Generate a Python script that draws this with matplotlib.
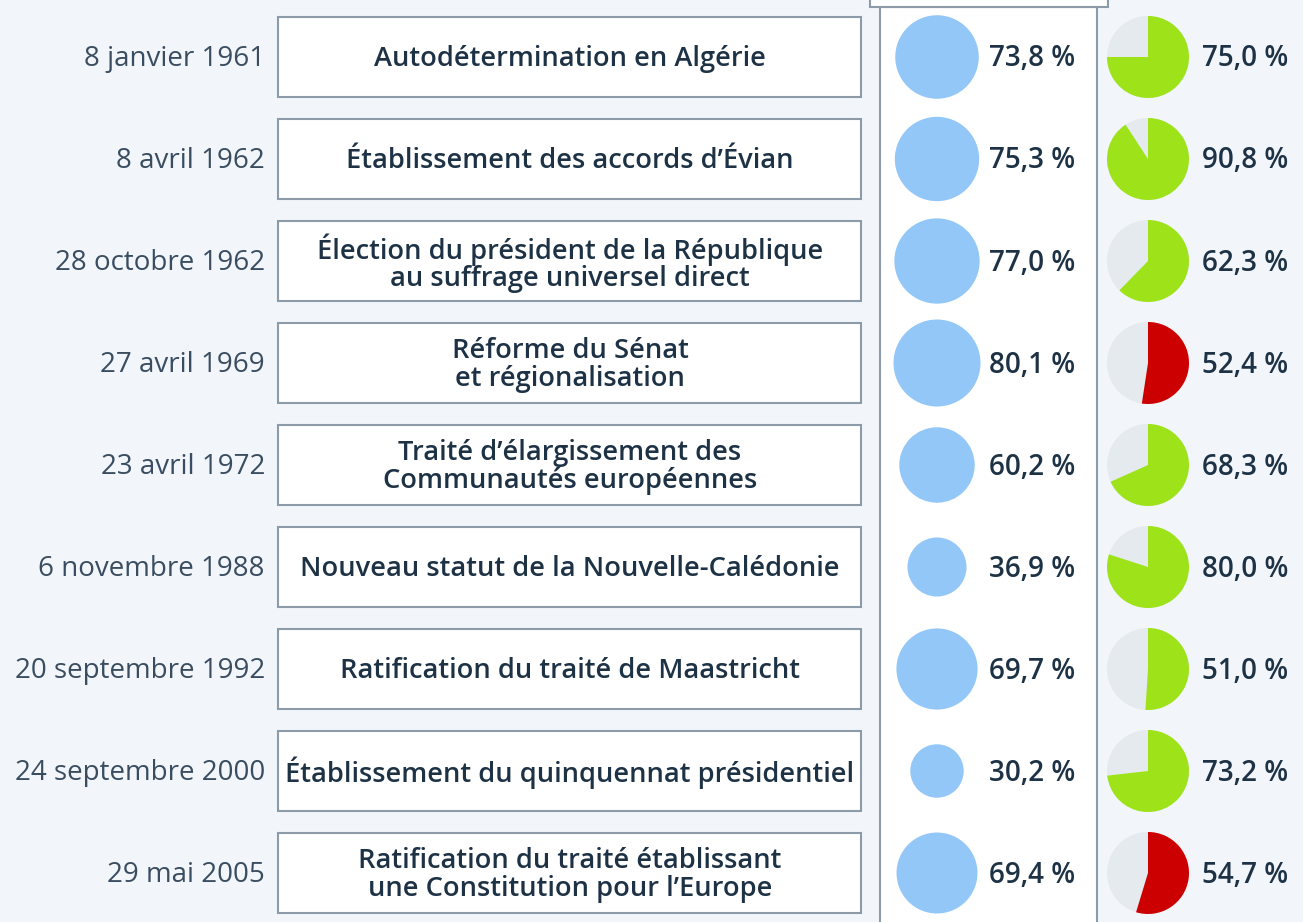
import matplotlib
matplotlib.use("Agg")
import matplotlib.pyplot as plt
from matplotlib.patches import Rectangle, Circle, Wedge
import numpy as np

dates = ["8 janvier 1961", "8 avril 1962", "28 octobre 1962", "27 avril 1969",
         "23 avril 1972", "6 novembre 1988", "20 septembre 1992",
         "24 septembre 2000", "29 mai 2005"]
subjects = ["Autodétermination en Algérie",
            "Établissement des accords d’Évian",
            "Élection du président de la République\nau suffrage universel direct",
            "Réforme du Sénat\net régionalisation",
            "Traité d’élargissement des\nCommunautés européennes",
            "Nouveau statut de la Nouvelle-Calédonie",
            "Ratification du traité de Maastricht",
            "Établissement du quinquennat présidentiel",
            "Ratification du traité établissant\nune Constitution pour l’Europe"]
participation = [73.8, 75.3, 77.0, 80.1, 60.2, 36.9, 69.7, 30.2, 69.4]
winning_share = [75.0, 90.8, 62.3, 52.4, 68.3, 80.0, 51.0, 73.2, 54.7]
yes_won = [True, True, True, False, True, True, True, True, False]

BG = "#f2f6fa"
TXT = "#1e3246"
DATE_C = "#3a4d60"
BORDER = "#8d9aa7"
BLUE = "#92c7f7"
GREEN = "#9ee31a"
RED = "#cc0000"
GREY = "#e5eaee"

FONT = "Open Sans"

fig = plt.figure(figsize=(13.03, 9.22), dpi=100, facecolor=BG)
ax = fig.add_axes([0, 0, 1, 1])
ax.set_xlim(0, 1303)
ax.set_ylim(922, 0)
ax.axis("off")
ax.set_facecolor(BG)

# middle panel + header box
ax.add_patch(Rectangle((880, 7), 217, 940, facecolor="white", edgecolor=BORDER, lw=1.5, zorder=1))
ax.add_patch(Rectangle((870, -60), 238, 67, facecolor="white", edgecolor=BORDER, lw=1.5, zorder=2))

row0, step = 57, 102
for i in range(len(dates)):
    yc = row0 + i * step
    ax.text(265, yc + 2, dates[i], ha="right", va="center", fontsize=20,
            family=FONT, color=DATE_C)
    ax.add_patch(Rectangle((278, yc - 40), 583, 80, facecolor="white",
                           edgecolor=BORDER, lw=1.5, zorder=2))
    ax.text(570, yc + 2, subjects[i], ha="center", va="center", fontsize=19.6,
            family=FONT, fontweight="semibold", color=TXT, linespacing=0.97, zorder=3)
    r = 48.6 * np.sqrt(participation[i] / 100)
    ax.add_patch(Circle((937, yc), r, facecolor=BLUE, edgecolor="none", zorder=3))
    ax.text(989, yc + 2, f"{participation[i]:.1f} %".replace(".", ","), ha="left",
            va="center", fontsize=20, family=FONT, fontweight="semibold", color=TXT)
    # pie
    pr = 41
    ang = winning_share[i] / 100 * 360
    ax.add_patch(Circle((1148, yc), pr, facecolor=GREY, edgecolor="none", zorder=3))
    ax.add_patch(Wedge((1148, yc), pr, -90, -90 + ang,
                       facecolor=GREEN if yes_won[i] else RED, edgecolor="none", zorder=4))
    ax.text(1202, yc + 2, f"{winning_share[i]:.1f} %".replace(".", ","), ha="left",
            va="center", fontsize=20, family=FONT, fontweight="semibold", color=TXT)

fig.savefig("out.png", dpi=100, facecolor=BG)
